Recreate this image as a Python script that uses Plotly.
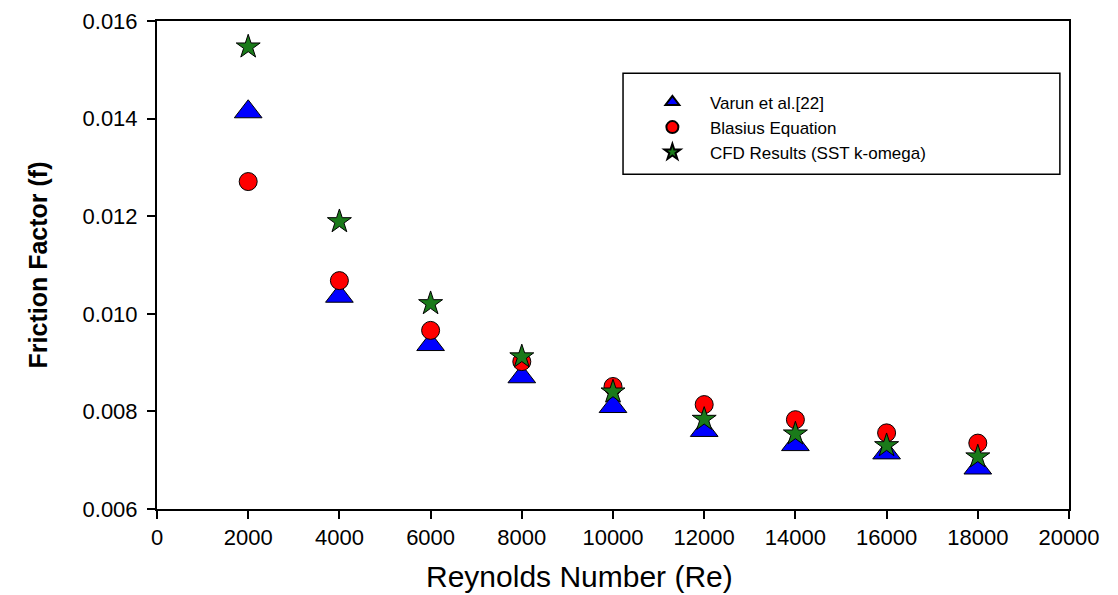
import plotly.graph_objects as go

re_vals = [2000, 4000, 6000, 8000, 10000, 12000, 14000, 16000, 18000]
varun = [0.01414, 0.01036, 0.00937, 0.00871, 0.00810, 0.00761, 0.00732, 0.00715, 0.00684]
blasius = [0.01271, 0.01068, 0.00966, 0.00902, 0.00851, 0.00814, 0.00783, 0.00756, 0.00735]
cfd = [0.01547, 0.01189, 0.01021, 0.00912, 0.00840, 0.00784, 0.00754, 0.00730, 0.00707]

x_ticks = [0, 2000, 4000, 6000, 8000, 10000, 12000, 14000, 16000, 18000, 20000]
y_ticks = [0.006, 0.008, 0.010, 0.012, 0.014, 0.016]

fig = go.Figure()
fig.add_trace(go.Scatter(x=re_vals, y=varun, mode="markers", name="Varun et al.[22]",
                         marker=dict(symbol="triangle-up", size=24, color="#0000ff",
                                     line=dict(color="black", width=1))))
fig.add_trace(go.Scatter(x=re_vals, y=blasius, mode="markers", name="Blasius Equation",
                         marker=dict(symbol="circle", size=18, color="#ff0000",
                                     line=dict(color="black", width=1))))
fig.add_trace(go.Scatter(x=re_vals, y=cfd, mode="markers", name="CFD Results (SST k-omega)",
                         marker=dict(symbol="star", size=18, color="#1a7a1a",
                                     line=dict(color="black", width=1))))

# legend frame
fig.add_shape(type="rect", xref="paper", yref="paper", x0=0.511, x1=0.990, y0=0.686, y1=0.893,
              line=dict(color="black", width=1.5), fillcolor="white", layer="below")

# x axis title
fig.add_annotation(text="Reynolds Number (Re)", xref="paper", yref="paper",
                   x=0.463, y=-0.138, xanchor="center", yanchor="middle",
                   showarrow=False, font=dict(size=30))

fig.update_layout(
    width=1110, height=587,
    margin=dict(l=149, r=49, t=13, b=86),
    plot_bgcolor="white", paper_bgcolor="white",
    font=dict(family="Liberation Sans, Arial, sans-serif", color="black"),
    showlegend=True,
    legend=dict(x=0.524, y=0.87, xanchor="left", yanchor="top",
                borderwidth=0, bgcolor="rgba(0,0,0,0)", itemwidth=65,
                font=dict(size=17), itemsizing="constant", tracegroupgap=0),
)
fig.update_xaxes(range=[0, 20000], tickvals=x_ticks, ticktext=[str(v) for v in x_ticks],
                 showline=True, linecolor="black", linewidth=2, mirror=True,
                 ticks="outside", ticklen=8, tickwidth=2, tickcolor="black",
                 showgrid=False, zeroline=False, tickfont=dict(size=22), automargin=False)
fig.update_yaxes(range=[0.006, 0.016], tickvals=y_ticks, ticktext=["%.3f" % v for v in y_ticks],
                 showline=True, linecolor="black", linewidth=2, mirror=True,
                 ticks="outside", ticklen=8, tickwidth=2, tickcolor="black",
                 showgrid=False, zeroline=False, tickfont=dict(size=22), automargin=False,
                 ticklabelstandoff=5,
                 title=dict(text="<b>Friction Factor (f)</b>",
                            font=dict(size=25), standoff=28))

fig.write_html("out.html")
